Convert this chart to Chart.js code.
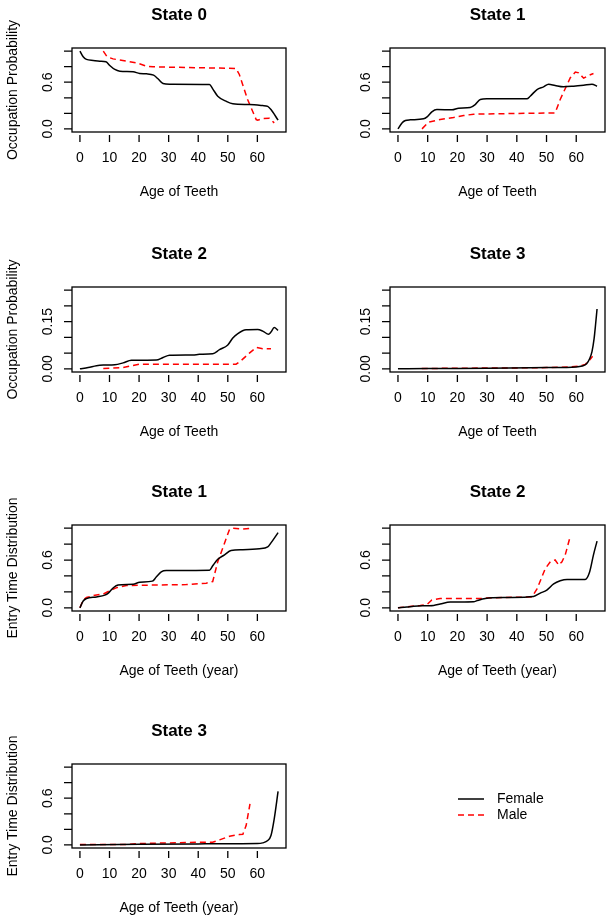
<!DOCTYPE html>
<html><head><meta charset="utf-8">
<script src="https://cdn.jsdelivr.net/npm/chart.js@4/dist/chart.umd.min.js"></script>
<style>
html,body{margin:0;padding:0;background:#fff;overflow:hidden;width:614px;height:924px;}
canvas{position:absolute;}
</style></head><body>
<script>
// ---- tick values / labels ----
const xTicks = [0, 10, 20, 30, 40, 50, 60];
const probTicks = [0, 0.2, 0.4, 0.6, 0.8, 1.0];
const probTickLabels = ['0.0', '', '', '0.6', '', ''];
const smallTicks = [0, 0.05, 0.10, 0.15, 0.20, 0.25];
const smallTickLabels = ['0.00', '', '', '0.15', '', ''];
const legendLabels = ['Female', 'Male'];

// ---- State 0 occupation probability ----
const occ0FemaleAge = [0,1.1,2.2,4.5,6.7,8.8,10.1,11.8,13.5,18,20.2,22.5,24.9,26.4,28.1,30.3,43.8,44.9,46.6,49.4,51.7,57.3,61.8,63.5,64.6,67];
const occ0Female    = [1.0,0.927,0.893,0.88,0.871,0.863,0.815,0.764,0.742,0.734,0.712,0.708,0.691,0.644,0.584,0.575,0.571,0.515,0.42,0.356,0.322,0.313,0.30,0.29,0.249,0.112];
const occ0MaleAge   = [7.9,9.2,11.2,15.7,19.1,22.5,24.7,52.8,53.9,56.7,59.6,60.1,61.8,64,65.7];
const occ0Male      = [1.0,0.927,0.90,0.871,0.85,0.807,0.798,0.777,0.70,0.378,0.12,0.112,0.133,0.137,0.077];

// ---- State 1 occupation probability ----
const occ1FemaleAge = [0,1.35,2.5,4.1,8.6,9.8,11.4,13.1,18.2,20.4,24.3,26,27.7,29.9,43.4,44.5,46.8,49,50.7,52.9,55.7,59.1,62.5,65.3,67];
const occ1Female    = [0,0.077,0.107,0.116,0.129,0.155,0.219,0.249,0.245,0.266,0.275,0.313,0.378,0.386,0.386,0.42,0.506,0.541,0.575,0.558,0.541,0.549,0.562,0.575,0.549];
const occ1MaleAge   = [8.1,10.3,14.2,18.7,22.1,25.5,52.9,54.6,58,59.7,60.8,62.5,64.1,65.8];
const occ1Male      = [0,0.086,0.12,0.146,0.172,0.189,0.206,0.378,0.657,0.73,0.72,0.652,0.687,0.712];

// ---- State 2 occupation probability ----
const occ2FemaleAge = [0,2.8,5.6,7.9,11.8,14.6,17.4,25.8,28.1,30.3,38.2,40.4,44.9,47.2,50,51.7,53.4,56.2,60.1,61.8,63.8,64.6,65.7,67];
const occ2Female    = [0,0.004,0.01,0.012,0.013,0.019,0.027,0.028,0.036,0.043,0.044,0.046,0.048,0.061,0.076,0.098,0.112,0.124,0.125,0.12,0.11,0.117,0.131,0.122];
const occ2MaleAge   = [7.9,10.1,14.6,18,20.2,52.8,54.5,57.3,59.6,61.8,64.6];
const occ2Male      = [0.001,0.002,0.004,0.011,0.015,0.015,0.026,0.05,0.068,0.064,0.064];

// ---- State 3 occupation probability ----
const occ3FemaleAge = [0,10,30,50,60,62,63.5,64.5,65.3,66,66.5,67];
const occ3Female    = [0,0.001,0.002,0.004,0.006,0.009,0.016,0.032,0.055,0.095,0.14,0.19];
const occ3MaleAge   = [8,20,40,50,58,61,63,64.5,65.5];
const occ3Male      = [0.001,0.002,0.003,0.004,0.006,0.009,0.014,0.028,0.04];

// ---- State 1 entry time distribution ----
const ent1FemaleAge = [0,1.1,2.2,5.6,8.4,9.6,11.2,12.9,18,20.2,24.5,25.8,27.5,29.2,43.8,44.9,46.6,48.9,51.1,55.1,60.7,63.5,64.6,67];
const ent1Female    = [0,0.086,0.116,0.137,0.159,0.185,0.249,0.288,0.296,0.322,0.335,0.386,0.451,0.468,0.472,0.528,0.609,0.665,0.721,0.73,0.742,0.764,0.815,0.944];
const ent1MaleAge   = [0,1.1,2.2,5.1,7.9,10.1,12.4,15.7,20.2,36,42.7,44.9,46.6,48.3,50.6,51.7,55.1,58.4];
const ent1Male      = [0,0.099,0.129,0.159,0.172,0.215,0.253,0.279,0.283,0.292,0.309,0.33,0.579,0.751,0.987,1.0,0.991,1.0];

// ---- State 2 entry time distribution ----
const ent2FemaleAge = [0,3,5.3,12,14.2,17.6,25.5,26.6,29.4,36.7,45.6,47.9,50.1,52.4,54.6,56.9,63,64.5,65.8,67];
const ent2Female    = [0,0.009,0.021,0.03,0.047,0.073,0.077,0.09,0.116,0.129,0.142,0.185,0.223,0.30,0.339,0.356,0.356,0.45,0.665,0.837];
const ent2MaleAge   = [0,3,7.5,9.8,11.4,14.2,27.7,29.9,45.1,46.8,49.6,51.3,52.9,54.1,55.2,56.3,58];
const ent2Male      = [0,0.013,0.03,0.043,0.099,0.116,0.116,0.124,0.137,0.236,0.494,0.579,0.601,0.536,0.579,0.665,0.901];

// ---- State 3 entry time distribution ----
const ent3FemaleAge = [0,20,40,60,61.8,63.5,64.6,65.7,67];
const ent3Female    = [0,0.009,0.013,0.017,0.026,0.056,0.12,0.335,0.687];
const ent3MaleAge   = [0,15,20,40,44.9,47.2,50.6,53.9,55.1,56.2,57.5];
const ent3Male      = [0.004,0.004,0.017,0.034,0.034,0.064,0.112,0.133,0.137,0.249,0.528];

// ---- layout ----
const FONT = '"Liberation Sans", Arial, Helvetica, sans-serif';
const colCanvas = [[0, 307], [307, 614]];
const colBox = [[72, 286], [390, 605]];
const rowBox = [[48, 132], [287, 372], [525, 611], [764, 848]];

const panels = [
  {col:0,row:0,title:'State 0',yTitle:'Occupation Probability',xTitle:'Age of Teeth',ymax:1,yt:probTicks,yl:probTickLabels,fa:occ0FemaleAge,f:occ0Female,ma:occ0MaleAge,m:occ0Male},
  {col:1,row:0,title:'State 1',yTitle:'',xTitle:'Age of Teeth',ymax:1,yt:probTicks,yl:probTickLabels,fa:occ1FemaleAge,f:occ1Female,ma:occ1MaleAge,m:occ1Male},
  {col:0,row:1,title:'State 2',yTitle:'Occupation Probability',xTitle:'Age of Teeth',ymax:0.25,yt:smallTicks,yl:smallTickLabels,fa:occ2FemaleAge,f:occ2Female,ma:occ2MaleAge,m:occ2Male},
  {col:1,row:1,title:'State 3',yTitle:'',xTitle:'Age of Teeth',ymax:0.25,yt:smallTicks,yl:smallTickLabels,fa:occ3FemaleAge,f:occ3Female,ma:occ3MaleAge,m:occ3Male},
  {col:0,row:2,title:'State 1',yTitle:'Entry Time Distribution',xTitle:'Age of Teeth (year)',ymax:1,yt:probTicks,yl:probTickLabels,fa:ent1FemaleAge,f:ent1Female,ma:ent1MaleAge,m:ent1Male},
  {col:1,row:2,title:'State 2',yTitle:'',xTitle:'Age of Teeth (year)',ymax:1,yt:probTicks,yl:probTickLabels,fa:ent2FemaleAge,f:ent2Female,ma:ent2MaleAge,m:ent2Male},
  {col:0,row:3,title:'State 3',yTitle:'Entry Time Distribution',xTitle:'Age of Teeth (year)',ymax:1,yt:probTicks,yl:probTickLabels,fa:ent3FemaleAge,f:ent3Female,ma:ent3MaleAge,m:ent3Male}
];

const XMIN = 0, XMAX = 67, EXT = 0.04;
const pts = (xs, ys) => xs.map((v, i) => ({x: v, y: ys[i]}));

function makeRAxes(p) {
  return {
    id: 'rAxes',
    afterDraw(chart) {
      const {ctx, chartArea: a, scales: {x, y}} = chart;
      ctx.save();
      ctx.strokeStyle = '#000';
      ctx.fillStyle = '#000';
      ctx.lineWidth = 1.3;
      ctx.strokeRect(a.left, a.top, a.right - a.left, a.bottom - a.top);
      ctx.beginPath();
      xTicks.forEach(v => { const px = x.getPixelForValue(v); ctx.moveTo(px, a.bottom + 3); ctx.lineTo(px, a.bottom + 10); });
      p.yt.forEach(v => { const py = y.getPixelForValue(v); ctx.moveTo(a.left, py); ctx.lineTo(a.left - 8, py); });
      ctx.stroke();
      ctx.font = '14px ' + FONT;
      ctx.textAlign = 'center';
      ctx.textBaseline = 'middle';
      xTicks.forEach(v => ctx.fillText(String(v), x.getPixelForValue(v), a.bottom + 26));
      ctx.fillText(p.xTitle, (a.left + a.right) / 2, a.bottom + 60);
      p.yt.forEach((v, i) => {
        if (!p.yl[i]) return;
        ctx.save();
        ctx.translate(a.left - 24, y.getPixelForValue(v));
        ctx.rotate(-Math.PI / 2);
        ctx.fillText(p.yl[i], 0, 0);
        ctx.restore();
      });
      if (p.yTitle) {
        ctx.save();
        ctx.translate(13, (a.top + a.bottom) / 2);
        ctx.rotate(-Math.PI / 2);
        ctx.fillText(p.yTitle, 0, 0);
        ctx.restore();
      }
      ctx.font = 'bold 17px ' + FONT;
      ctx.fillText(p.title, (a.left + a.right) / 2, a.top - 33);
      ctx.restore();
    }
  };
}

panels.forEach(p => {
  const [cl, cr] = colCanvas[p.col];
  const [bl, br] = colBox[p.col];
  const [bt, bb] = rowBox[p.row];
  const top = bt - 48, bottom = bb + 76;
  const cv = document.createElement('canvas');
  cv.width = cr - cl; cv.height = bottom - top;
  cv.style.left = cl + 'px'; cv.style.top = top + 'px';
  cv.style.width = (cr - cl) + 'px'; cv.style.height = (bottom - top) + 'px';
  document.body.appendChild(cv);
  const xr = (XMAX - XMIN) * EXT;
  new Chart(cv, {
    type: 'line',
    data: {
      datasets: [
        {label: legendLabels[0], data: pts(p.fa, p.f), borderColor: '#000000', borderWidth: 1.5, pointRadius: 0, cubicInterpolationMode: 'monotone', fill: false},
        {label: legendLabels[1], data: pts(p.ma, p.m), borderColor: '#ff0000', borderWidth: 1.5, borderDash: [6, 4], pointRadius: 0, tension: 0, fill: false}
      ]
    },
    options: {
      responsive: false, animation: false, devicePixelRatio: 1,
      layout: {padding: {left: bl - cl, right: cr - br, top: 48, bottom: 76}},
      plugins: {legend: {display: false}, title: {display: false}, tooltip: {enabled: false}},
      scales: {
        x: {type: 'linear', display: false, min: XMIN - xr, max: XMAX + xr},
        y: {type: 'linear', display: false, min: -EXT * p.ymax, max: p.ymax * (1 + EXT)}
      }
    },
    plugins: [makeRAxes(p)]
  });
});

// ---- legend panel ----
(function () {
  const cv = document.createElement('canvas');
  const L = 307, T = 716;
  cv.width = 307; cv.height = 208;
  cv.style.left = L + 'px'; cv.style.top = T + 'px';
  cv.style.width = '307px'; cv.style.height = '208px';
  document.body.appendChild(cv);
  new Chart(cv, {
    type: 'line',
    data: {datasets: [
      {label: legendLabels[0], data: [], borderColor: '#000000', borderWidth: 1.5, borderDash: []},
      {label: legendLabels[1], data: [], borderColor: '#ff0000', borderWidth: 1.5, borderDash: [6, 4]}
    ]},
    options: {
      responsive: false, animation: false, devicePixelRatio: 1,
      plugins: {legend: {display: false}, tooltip: {enabled: false}},
      scales: {x: {display: false}, y: {display: false}}
    },
    plugins: [{
      id: 'rLegend',
      afterDraw(chart) {
        const ctx = chart.ctx;
        ctx.save();
        ctx.font = '14px ' + FONT;
        ctx.textBaseline = 'middle';
        ctx.textAlign = 'left';
        chart.data.datasets.forEach((ds, i) => {
          const yy = 799 - T + i * 16;
          ctx.strokeStyle = ds.borderColor;
          ctx.lineWidth = ds.borderWidth;
          ctx.setLineDash(ds.borderDash);
          ctx.beginPath();
          ctx.moveTo(458 - L, yy); ctx.lineTo(484 - L, yy);
          ctx.stroke();
          ctx.setLineDash([]);
          ctx.fillStyle = '#000';
          ctx.fillText(ds.label, 497 - L, yy);
        });
        ctx.restore();
      }
    }]
  });
})();
</script>
</body></html>
